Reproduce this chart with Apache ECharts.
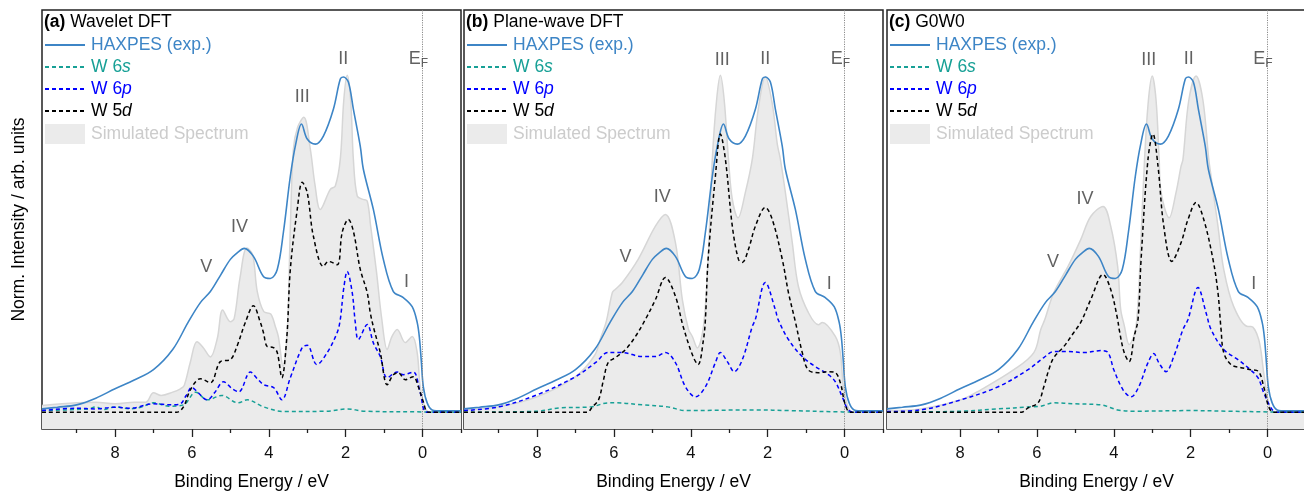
<!DOCTYPE html>
<html>
<head>
<meta charset="utf-8">
<script src="https://cdn.jsdelivr.net/npm/echarts@6/dist/echarts.min.js"></script>
<style>
html,body{margin:0;padding:0;background:#fff;}
#chart{width:1304px;height:491px;}
</style>
</head>
<body>
<div id="chart"></div>
<script>
// ---------- data (Binding Energy [eV], normalized intensity) ----------
const majorTicks = [0, 2, 4, 6, 8];
const minorTicks = [-1, 1, 3, 5, 7, 9];

const haxpes = [[9.9,0.010],[9.5,0.015],[9.0,0.022],[8.5,0.042],[8.0,0.07],[7.5,0.096],[7.0,0.127],[6.5,0.187],[6.1,0.268],[5.78,0.327],[5.52,0.36],[5.25,0.41],[5.0,0.456],[4.8,0.478],[4.64,0.489],[4.4,0.465],[4.14,0.405],[3.96,0.399],[3.78,0.426],[3.62,0.537],[3.44,0.704],[3.3,0.80],[3.15,0.86],[3.0,0.815],[2.79,0.80],[2.58,0.824],[2.32,0.904],[2.14,0.994],[2.06,1.0],[1.93,0.985],[1.80,0.904],[1.62,0.793],[1.54,0.725],[1.28,0.605],[1.02,0.456],[0.76,0.36],[0.50,0.342],[0.27,0.315],[0.14,0.268],[0.08,0.22],[0.03,0.148],[-0.02,0.076],[-0.12,0.028],[-0.25,0.007],[-0.5,0.004],[-1,0.004]];

// (a) Wavelet DFT
const simA = [[9.9,0.02],[9.0,0.028],[8.5,0.03],[8.0,0.025],[7.5,0.03],[7.2,0.03],[7.0,0.058],[6.8,0.05],[6.5,0.06],[6.3,0.07],[6.2,0.08],[6.04,0.15],[5.87,0.21],[5.72,0.195],[5.52,0.165],[5.34,0.22],[5.2,0.305],[5.0,0.27],[4.9,0.28],[4.75,0.40],[4.57,0.49],[4.42,0.47],[4.3,0.36],[4.13,0.30],[3.95,0.293],[3.83,0.256],[3.75,0.225],[3.63,0.137],[3.52,0.24],[3.44,0.55],[3.36,0.785],[3.25,0.85],[3.09,0.88],[2.92,0.785],[2.8,0.68],[2.66,0.605],[2.4,0.665],[2.27,0.675],[2.14,0.755],[2.05,0.93],[1.96,1.005],[1.87,0.93],[1.8,0.755],[1.7,0.645],[1.55,0.635],[1.44,0.63],[1.35,0.555],[1.2,0.42],[1.06,0.277],[0.92,0.187],[0.8,0.225],[0.66,0.247],[0.45,0.208],[0.27,0.226],[0.14,0.178],[0.06,0.076],[-0.07,0.013],[-0.2,0],[-1,0]];
const s6A = [[9.9,0.005],[8.7,0.01],[8.5,0.016],[8.3,0.008],[8.0,0.016],[7.6,0.01],[7.3,0.016],[7.0,0.028],[6.6,0.018],[6.22,0.022],[5.9,0.06],[5.6,0.037],[5.22,0.05],[4.8,0.028],[4.56,0.037],[4.14,0.016],[3.6,0.002],[2.5,0.003],[1.96,0.01],[1.5,0.003],[0,0.001],[-1,0]];
const p6A = [[9.9,0.005],[9.0,0.012],[8.5,0.01],[8.0,0.015],[7.6,0.012],[7.0,0.025],[6.5,0.022],[6.3,0.025],[6.15,0.05],[6.0,0.074],[5.87,0.062],[5.6,0.037],[5.4,0.06],[5.18,0.091],[4.95,0.07],[4.78,0.061],[4.48,0.12],[4.3,0.1],[4.13,0.082],[3.87,0.073],[3.66,0.037],[3.44,0.103],[3.13,0.193],[3.0,0.2],[2.75,0.142],[2.48,0.178],[2.22,0.238],[2.14,0.277],[2.05,0.37],[1.96,0.42],[1.83,0.357],[1.75,0.268],[1.67,0.217],[1.44,0.262],[1.28,0.207],[1.1,0.166],[0.92,0.103],[0.66,0.12],[0.5,0.112],[0.24,0.12],[0.06,0.058],[-0.12,0],[-1,0]];
const d5A = [[9.9,0],[6.4,0],[6.22,0.016],[6.04,0.067],[5.78,0.10],[5.52,0.088],[5.26,0.151],[5.0,0.157],[4.83,0.196],[4.61,0.268],[4.4,0.318],[4.22,0.268],[4.14,0.238],[4.04,0.196],[3.88,0.193],[3.78,0.178],[3.66,0.103],[3.53,0.226],[3.44,0.426],[3.26,0.605],[3.13,0.686],[3.0,0.655],[2.84,0.525],[2.58,0.435],[2.45,0.45],[2.22,0.44],[2.09,0.537],[1.93,0.575],[1.8,0.54],[1.62,0.426],[1.44,0.357],[1.36,0.297],[1.28,0.255],[1.1,0.178],[0.92,0.082],[0.76,0.112],[0.63,0.118],[0.45,0.097],[0.24,0.106],[0.11,0.076],[-0.02,0.031],[-0.15,0],[-1,0]];
const labelsA = [['V',5.63,0.432],['IV',4.76,0.552],['III',3.13,0.94],['II',2.06,1.054],['I',0.42,0.387],['EF',0.11,1.054]];

// (b) Plane-wave DFT
const simB = [[9.9,0.007],[9.0,0.016],[8.0,0.046],[7.0,0.106],[6.5,0.17],[6.35,0.22],[6.2,0.27],[6.04,0.357],[5.96,0.367],[5.78,0.387],[5.37,0.456],[4.92,0.555],[4.66,0.59],[4.4,0.506],[4.22,0.336],[4.06,0.247],[3.96,0.226],[3.83,0.192],[3.67,0.256],[3.55,0.456],[3.44,0.755],[3.33,0.93],[3.23,1.005],[3.13,0.93],[3.02,0.755],[2.92,0.635],[2.77,0.58],[2.58,0.656],[2.4,0.755],[2.25,0.9],[2.06,1.0],[1.88,0.92],[1.75,0.80],[1.67,0.755],[1.54,0.656],[1.36,0.506],[1.2,0.375],[0.94,0.297],[0.68,0.261],[0.58,0.268],[0.24,0.226],[0.11,0.178],[0.03,0.076],[-0.1,0.013],[-0.23,0],[-1,0]];
const s6B = [[9.9,0],[8.0,0.003],[7.4,0.013],[6.6,0.016],[6.15,0.028],[5.96,0.028],[5.26,0.022],[4.6,0.016],[4.14,0.005],[2.3,0.007],[1.46,0.005],[0.06,0.001],[-1,0]];
const p6B = [[9.9,0.005],[9.0,0.016],[8.0,0.052],[7.0,0.106],[6.48,0.148],[6.15,0.178],[5.78,0.178],[5.26,0.166],[4.92,0.166],[4.66,0.178],[4.40,0.148],[4.14,0.076],[3.88,0.046],[3.62,0.076],[3.36,0.148],[3.23,0.178],[3.05,0.151],[2.87,0.121],[2.66,0.157],[2.40,0.256],[2.32,0.277],[2.06,0.387],[1.8,0.306],[1.73,0.277],[1.46,0.217],[1.10,0.166],[0.76,0.136],[0.42,0.112],[0.24,0.091],[0.06,0.046],[-0.1,0.007],[-0.27,0],[-1,0]];
const d5B = [[9.9,0],[6.7,0],[6.56,0.016],[6.4,0.037],[6.27,0.097],[6.15,0.148],[5.96,0.163],[5.70,0.187],[5.44,0.226],[5.18,0.277],[4.92,0.336],[4.66,0.402],[4.40,0.346],[4.2,0.256],[3.94,0.166],[3.81,0.142],[3.67,0.217],[3.62,0.277],[3.55,0.456],[3.36,0.704],[3.23,0.83],[3.1,0.755],[2.92,0.555],[2.76,0.456],[2.66,0.447],[2.5,0.486],[2.32,0.555],[2.06,0.611],[1.88,0.575],[1.62,0.456],[1.46,0.357],[1.28,0.27],[1.10,0.178],[0.95,0.127],[0.69,0.118],[0.42,0.121],[0.24,0.118],[0.11,0.088],[-0.02,0.022],[-0.15,0],[-1,0]];
const labelsB = [['V',5.70,0.462],['IV',4.74,0.641],['III',3.18,1.05],['II',2.06,1.054],['I',0.40,0.381],['EF',0.11,1.054]];

// (c) G0W0
const simC = [[9.9,0.005],[9.02,0.01],[7.98,0.037],[7.46,0.067],[6.6,0.127],[6.08,0.178],[5.9,0.247],[5.8,0.275],[5.56,0.357],[5.19,0.435],[4.86,0.515],[4.6,0.584],[4.28,0.614],[4.08,0.555],[3.9,0.435],[3.82,0.306],[3.73,0.26],[3.6,0.202],[3.42,0.256],[3.3,0.5],[3.2,0.755],[3.1,0.93],[3.0,1.003],[2.9,0.93],[2.82,0.755],[2.77,0.656],[2.56,0.58],[2.38,0.656],[2.25,0.734],[2.2,0.755],[2.05,0.93],[1.86,1.003],[1.68,0.93],[1.53,0.755],[1.47,0.704],[1.29,0.555],[1.14,0.426],[0.88,0.315],[0.51,0.256],[0.43,0.256],[0.23,0.217],[0.1,0.118],[-0.03,0.028],[-0.16,0],[-1,0]];
const s6C = [[9.9,0],[8.0,0.003],[7.0,0.01],[6.2,0.016],[5.9,0.018],[5.56,0.028],[5.0,0.025],[4.33,0.022],[3.9,0.007],[3.5,0.003],[2.0,0.005],[1.0,0.003],[0,0.001],[-1,0]];
const p6C = [[9.9,0.002],[9.02,0.007],[7.98,0.037],[7.01,0.076],[6.23,0.127],[5.82,0.163],[5.56,0.181],[5.2,0.181],[4.77,0.178],[4.33,0.184],[4.15,0.178],[4.0,0.127],[3.76,0.067],[3.55,0.046],[3.35,0.076],[3.11,0.148],[2.96,0.175],[2.83,0.148],[2.64,0.121],[2.44,0.166],[2.2,0.247],[2.07,0.277],[1.81,0.372],[1.6,0.297],[1.47,0.247],[1.14,0.187],[0.77,0.157],[0.51,0.133],[0.25,0.103],[0.1,0.058],[-0.09,0.013],[-0.22,0],[-1,0]];
const d5C = [[9.9,0],[6.4,0],[6.23,0.013],[5.97,0.028],[5.82,0.076],[5.69,0.127],[5.56,0.163],[5.3,0.196],[5.04,0.238],[4.86,0.268],[4.6,0.336],[4.28,0.411],[4.08,0.366],[3.9,0.277],[3.86,0.247],[3.73,0.178],[3.6,0.151],[3.47,0.226],[3.37,0.277],[3.29,0.456],[3.11,0.755],[2.98,0.83],[2.85,0.734],[2.7,0.555],[2.49,0.45],[2.25,0.506],[2.07,0.575],[1.86,0.626],[1.66,0.575],[1.42,0.456],[1.29,0.357],[1.21,0.247],[1.14,0.178],[0.95,0.142],[0.69,0.133],[0.43,0.127],[0.23,0.121],[0.1,0.076],[-0.03,0.016],[-0.16,0],[-1,0]];
const labelsC = [['V',5.58,0.449],['IV',4.75,0.635],['III',3.09,1.05],['II',2.05,1.054],['I',0.36,0.381],['EF',0.12,1.054]];

const seriesNames = ['HAXPES (exp.)', 'W 6s', 'W 6p', 'W 5d', 'Simulated Spectrum'];
const titles = [['(a)', 'Wavelet DFT'], ['(b)', 'Plane-wave DFT'], ['(c)', 'G0W0']];

// ---------- styling / layout ----------
const FONT = "'Liberation Sans', Arial, sans-serif";
const C_HAX = '#3d85c6', C_6S = '#17a096', C_6P = '#0000ff', C_5D = '#000000', C_SIM_TXT = '#cccccc';
const gridLefts = [42, 464, 887];
const GRID_W = 419, GRID_TOP = 10, GRID_H = 419;

const panels = [
  {sim: simA, s6: s6A, p6: p6A, d5: d5A, labels: labelsA},
  {sim: simB, s6: s6B, p6: p6B, d5: d5B, labels: labelsB},
  {sim: simC, s6: s6C, p6: p6C, d5: d5C, labels: labelsC}
];

const grid = [], xAxis = [], yAxis = [], series = [], legend = [], title = [];
const hiddenSymbol = {opacity: 0};

panels.forEach((p, i) => {
  grid.push({left: gridLefts[i], top: GRID_TOP, width: GRID_W, height: GRID_H,
    containLabel: false, outerBoundsMode: 'none',
    show: true, borderColor: '#222', borderWidth: 1.5, backgroundColor: 'transparent'});
  xAxis.push({
    type: 'value', gridIndex: i, min: -1, max: 9.9, inverse: true, position: 'bottom',
    name: 'Binding Energy / eV', nameLocation: 'middle', nameGap: 44,
    nameTextStyle: {fontSize: 17.5, color: '#000', fontFamily: FONT},
    axisLine: {show: false},
    splitLine: {show: false},
    axisTick: {show: true, inside: false, length: 8, customValues: majorTicks, lineStyle: {color: '#222', width: 1.3}},
    axisLabel: {show: true, customValues: majorTicks, margin: 16, fontSize: 16.5, color: '#111', fontFamily: FONT}
  });
  yAxis.push({
    type: 'value', gridIndex: i, min: -0.05, max: 1.2,
    name: i === 0 ? 'Norm. Intensity / arb. units' : '',
    nameLocation: 'middle', nameGap: 14, nameRotate: 90,
    nameTextStyle: {fontSize: 17.5, color: '#000', fontFamily: FONT},
    axisLine: {show: false}, axisTick: {show: false}, axisLabel: {show: false}, splitLine: {show: false}
  });

  const common = {xAxisIndex: i, yAxisIndex: i, symbol: 'none', showSymbol: false, smooth: 0.35, silent: true};
  series.push(Object.assign({}, common, {
    type: 'line', name: 'Simulated Spectrum', data: p.sim, z: 1,
    lineStyle: {color: '#d6d6d6', width: 1.5},
    itemStyle: {color: '#ebebeb'},
    areaStyle: {color: '#ebebeb', opacity: 1, origin: 'start'},
    markLine: {silent: true, symbol: 'none', animation: false,
      label: {show: false},
      lineStyle: {color: '#8a8a8a', type: [1.2, 1.2], width: 1},
      data: [{xAxis: 0}]}
  }));
  series.push(Object.assign({}, common, {
    type: 'line', name: 'HAXPES (exp.)', data: haxpes, z: 3,
    lineStyle: {color: C_HAX, width: 1.6}, itemStyle: {color: C_HAX}
  }));
  series.push(Object.assign({}, common, {
    type: 'line', name: 'W 6s', data: p.s6, z: 4,
    lineStyle: {color: C_6S, width: 1.5, type: [4, 3]}, itemStyle: {color: C_6S}
  }));
  series.push(Object.assign({}, common, {
    type: 'line', name: 'W 6p', data: p.p6, z: 5,
    lineStyle: {color: C_6P, width: 1.5, type: [4, 3]}, itemStyle: {color: C_6P}
  }));
  series.push(Object.assign({}, common, {
    type: 'line', name: 'W 5d', data: p.d5, z: 6,
    lineStyle: {color: C_5D, width: 1.5, type: [4, 3]}, itemStyle: {color: C_5D}
  }));
  series.push({
    type: 'scatter', xAxisIndex: i, yAxisIndex: i, symbolSize: 0, silent: true, z: 10,
    data: p.labels.map(l => ({name: l[0], value: [l[1], l[2]]})),
    label: {
      show: true, position: 'inside', fontSize: 18, color: '#3a3a3a', fontFamily: FONT,
      formatter: d => d.name === 'EF' ? 'E{sub|F}' : d.name,
      rich: {sub: {fontSize: 12, color: '#3a3a3a', fontFamily: FONT, verticalAlign: 'bottom', padding: [10, 0, 0, 0]}}
    }
  });

  legend.push({
    left: gridLefts[i] + 2, top: 36, orient: 'vertical', padding: 0,
    itemWidth: 40, itemHeight: 20, itemGap: 4, selectedMode: false,
    textStyle: {fontSize: 17.5, fontFamily: FONT, padding: [0, 0, 0, 1],
      rich: {
        ts: {fontStyle: 'italic', color: C_6S, fontSize: 17.5, fontFamily: FONT},
        tp: {fontStyle: 'italic', color: C_6P, fontSize: 17.5, fontFamily: FONT},
        td: {fontStyle: 'italic', color: C_5D, fontSize: 17.5, fontFamily: FONT}
      }},
    formatter: n => n === 'W 6s' ? 'W 6{ts|s}' : n === 'W 6p' ? 'W 6{tp|p}' : n === 'W 5d' ? 'W 5{td|d}' : n,
    data: [
      {name: seriesNames[0], itemStyle: hiddenSymbol, textStyle: {color: C_HAX}},
      {name: seriesNames[1], itemStyle: hiddenSymbol, textStyle: {color: C_6S}},
      {name: seriesNames[2], itemStyle: hiddenSymbol, textStyle: {color: C_6P}},
      {name: seriesNames[3], itemStyle: hiddenSymbol, textStyle: {color: C_5D}},
      {name: seriesNames[4], icon: 'rect', itemStyle: {color: '#ebebeb', borderWidth: 0}, textStyle: {color: C_SIM_TXT}}
    ]
  });

  title.push({
    left: gridLefts[i] + 2, top: 13, padding: 0,
    text: '{b|' + titles[i][0] + '} ' + titles[i][1],
    textStyle: {fontSize: 17.5, fontWeight: 'normal', color: '#000', fontFamily: FONT,
      rich: {b: {fontWeight: 'bold', fontSize: 17.5, color: '#000', fontFamily: FONT}}}
  });
});

// extra tick-only axes: long ticks at even energies, short ticks at odd energies
[[majorTicks, 8], [minorTicks, 4]].forEach(([vals, len]) => {
  panels.forEach((p, i) => {
    xAxis.push({
      type: 'value', gridIndex: i, min: -1, max: 9.9, inverse: true, position: 'bottom',
      axisLine: {show: false}, splitLine: {show: false}, axisLabel: {show: false},
      axisTick: {show: true, inside: false, length: len, customValues: vals, lineStyle: {color: '#222', width: 1.3}}
    });
  });
});

const chart = echarts.init(document.getElementById('chart'), null, {renderer: 'canvas'});
chart.setOption({animation: false, backgroundColor: '#fff', grid, xAxis, yAxis, series, legend, title});
</script>
</body>
</html>
